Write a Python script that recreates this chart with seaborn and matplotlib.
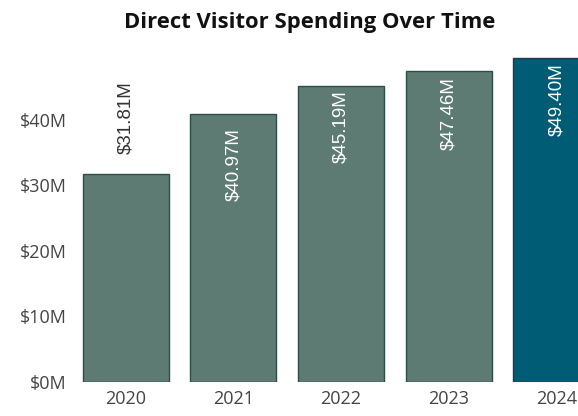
import matplotlib
matplotlib.use("Agg")
import matplotlib.pyplot as plt
import seaborn as sns
import pandas as pd

years = ["2020", "2021", "2022", "2023", "2024"]
spending = [31.81, 40.97, 45.19, 47.46, 49.40]  # $M
bar_colors = ["#5d7a73", "#5d7a73", "#5d7a73", "#5d7a73", "#005b74"]
edge_colors = ["#2f4d47", "#2f4d47", "#2f4d47", "#2f4d47", "#1d3b4a"]
label_inside = [False, True, True, True, True]
label_pad = [20, 15, 4, 6, 5]  # px between bar top and label
y_ticks = [0, 10, 20, 30, 40]


def main():
    sns.set_theme(style="white")
    plt.rcParams["font.family"] = ["Open Sans", "DejaVu Sans"]

    df = pd.DataFrame({"year": years, "spending": spending})

    fig = plt.figure(figsize=(5.78, 4.16), dpi=100)
    ax = fig.add_axes([0.13, 0.082, 0.87, 0.787])
    sns.barplot(data=df, x="year", y="spending", hue="year",
                palette=bar_colors, legend=False, width=0.8, ax=ax,
                linewidth=1.0, saturation=1)
    for patch, ec in zip(ax.patches, edge_colors):
        patch.set_edgecolor(ec)

    for i, (v, inside, pad) in enumerate(zip(spending, label_inside, label_pad)):
        txt = f"${v:.2f}M"
        if inside:
            ax.annotate(txt, (i, v), xytext=(0, -pad), textcoords="offset pixels",
                        ha="center", va="top", rotation=90, color="white",
                        fontsize=13.5, family="Liberation Sans")
        else:
            ax.annotate(txt, (i, v), xytext=(0, pad), textcoords="offset pixels",
                        ha="center", va="bottom", rotation=90, color="#333333",
                        fontsize=13.5, family="Liberation Sans")

    ax.set_xlim(-0.47, 4.2)
    ax.set_ylim(0, 50)
    ax.set_yticks(y_ticks)
    ax.set_yticklabels([f"${t}M" for t in y_ticks])
    ax.set_xlabel("")
    ax.set_ylabel("")
    ax.tick_params(axis="both", labelsize=13, colors="#444444", length=0, pad=6)
    for s in ax.spines.values():
        s.set_visible(False)

    fig.text(0.535, 0.947, "Direct Visitor Spending Over Time", ha="center",
             va="center", fontsize=15.8, fontweight="bold", color="#111111")

    fig.savefig("out.png", dpi=100)


if __name__ == "__main__":
    main()
